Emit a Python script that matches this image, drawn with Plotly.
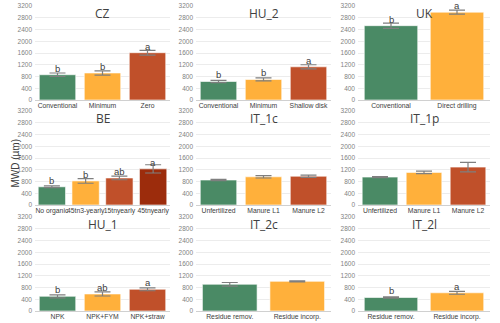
import plotly.graph_objects as go

# Panel data (MWD in µm)
panels = ["CZ", "HU_2", "UK", "BE", "IT_1c", "IT_1p", "HU_1", "IT_2c", "IT_2l"]

cz_cats = ["Conventional", "Minimum", "Zero"]
cz_vals = [860, 920, 1610]
cz_err = [60, 70, 80]
cz_letters = ["b", "b", "a"]

hu2_cats = ["Conventional", "Minimum", "Shallow disk"]
hu2_vals = [630, 700, 1130]
hu2_err = [40, 50, 70]
hu2_letters = ["b", "b", "a"]

uk_cats = ["Conventional", "Direct drilling"]
uk_vals = [2530, 2990]
uk_err = [90, 70]
uk_letters = ["b", "a"]

be_cats = ["No organic", "45tn3-yearly", "15tnyearly", "45tnyearly"]
be_vals = [620, 820, 920, 1230]
be_err = [30, 80, 60, 140]
be_letters = ["b", "b", "ab", "a"]

it1c_cats = ["Unfertilized", "Manure L1", "Manure L2"]
it1c_vals = [850, 960, 980]
it1c_err = [20, 40, 40]
it1c_letters = ["", "", ""]

it1p_cats = ["Unfertilized", "Manure L1", "Manure L2"]
it1p_vals = [950, 1110, 1290]
it1p_err = [15, 40, 160]
it1p_letters = ["", "", ""]

hu1_cats = ["NPK", "NPK+FYM", "NPK+straw"]
hu1_vals = [500, 580, 740]
hu1_err = [50, 70, 50]
hu1_letters = ["b", "ab", "a"]

it2c_cats = ["Residue remov.", "Residue incorp."]
it2c_vals = [910, 1010]
it2c_err = [60, 20]
it2c_letters = ["", ""]

it2l_cats = ["Residue remov.", "Residue incorp."]
it2l_vals = [460, 620]
it2l_err = [20, 50]
it2l_letters = ["b", "a"]

y_ticks = [0, 400, 800, 1200, 1600, 2000, 2400, 2800, 3200]

data = [
    (cz_cats, cz_vals, cz_err, cz_letters),
    (hu2_cats, hu2_vals, hu2_err, hu2_letters),
    (uk_cats, uk_vals, uk_err, uk_letters),
    (be_cats, be_vals, be_err, be_letters),
    (it1c_cats, it1c_vals, it1c_err, it1c_letters),
    (it1p_cats, it1p_vals, it1p_err, it1p_letters),
    (hu1_cats, hu1_vals, hu1_err, hu1_letters),
    (it2c_cats, it2c_vals, it2c_err, it2c_letters),
    (it2l_cats, it2l_vals, it2l_err, it2l_letters),
]

colors = ["#4a8a65", "#ffb03b", "#c0502a", "#9c2c0c"]

W, H = 500, 323
col_px = [(35, 170), (196, 331), (358, 490)]
row_px = [(6, 100), (111, 205), (217, 311)]

fig = go.Figure()
layout = {}
for i, (name, (cats, vals, errs, letters)) in enumerate(zip(panels, data)):
    r, c = divmod(i, 3)
    n = i + 1
    xa = "x" if n == 1 else f"x{n}"
    ya = "y" if n == 1 else f"y{n}"
    fig.add_trace(go.Bar(
        x=cats, y=vals, xaxis=xa, yaxis=ya,
        marker=dict(color=colors[:len(cats)], line=dict(color="rgba(255,255,255,0.6)", width=1)),
        error_y=dict(type="data", array=errs, color="#7f7f7f", thickness=1.2, width=8),
        showlegend=False, hoverinfo="skip",
    ))
    x0, x1 = col_px[c]
    y0, y1 = row_px[r]
    layout["xaxis" if n == 1 else f"xaxis{n}"] = dict(
        domain=[x0 / W, x1 / W], anchor=ya, showgrid=False, zeroline=False,
        tickfont=dict(size=6.8, color="#404040", family="Arial"), ticks="",
        tickangle=0, automargin=False, ticklabelstandoff=0, fixedrange=True,
    )
    layout["yaxis" if n == 1 else f"yaxis{n}"] = dict(
        domain=[1 - y1 / H, 1 - y0 / H], anchor=xa, range=[0, 3200],
        tickvals=y_ticks, showgrid=True, gridcolor="#ececec", gridwidth=1,
        zeroline=True, zerolinecolor="#d0d0d0", zerolinewidth=1,
        tickfont=dict(size=6.5, color="#7f7f7f", family="Arial"), ticks="",
        ticklabelstandoff=2, automargin=False, fixedrange=True,
    )
    fig.add_annotation(text=name, xref=f"{xa} domain", yref=ya, x=0.5, y=2950,
                       showarrow=False, font=dict(size=12, color="#404040", family="Open Sans"))
    for cat, v, e, lt in zip(cats, vals, errs, letters):
        if lt:
            fig.add_annotation(text=lt, x=cat, y=v, xref=xa, yref=ya, yanchor="bottom",
                               yshift=-1, showarrow=False,
                               font=dict(size=9.5, color="#404040", family="Arial"))

fig.add_annotation(text="MWD (µm)", xref="paper", yref="paper", x=7 / W, y=1 - 163 / H,
                   textangle=-90, showarrow=False,
                   font=dict(size=10, color="#404040", family="Arial"))

fig.update_layout(
    **layout,
    width=W, height=H, margin=dict(l=0, r=0, t=0, b=0),
    paper_bgcolor="white", plot_bgcolor="white",
    bargap=0.19,
)

fig.write_html("out.html", config={"displayModeBar": False},
               post_script="document.body.style.margin='0';")
